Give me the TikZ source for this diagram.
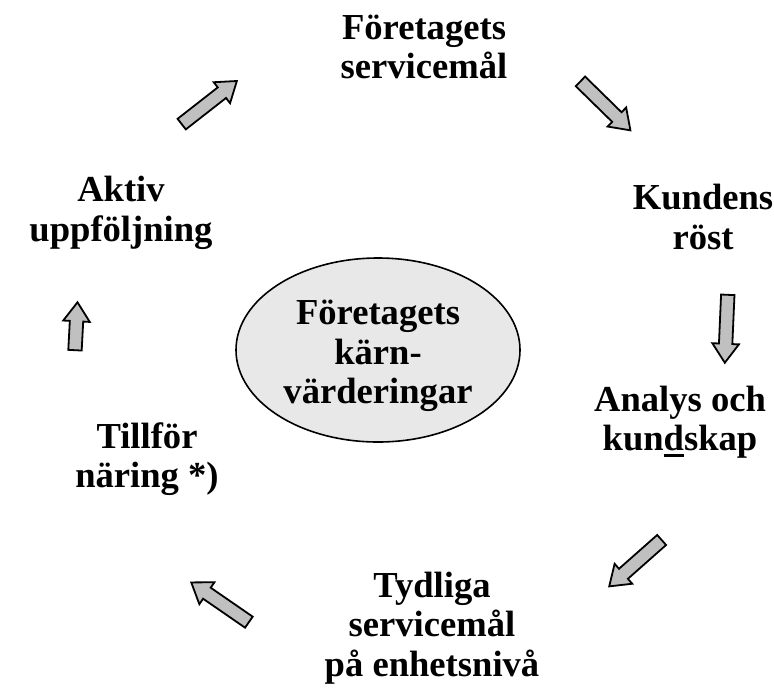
\documentclass[tikz,border=0pt]{standalone}
\usepackage{fontspec}
\setmainfont{Liberation Serif}
\usetikzlibrary{shapes.arrows, shapes.geometric}

\definecolor{arrowgray}{RGB}{192,192,192}
\definecolor{corefill}{RGB}{232,232,232}

\newsavebox\ulbox
\newcommand\thickul[1]{\sbox\ulbox{#1}\rlap{\rule[-3.4pt]{\wd\ulbox}{1.6pt}}\usebox\ulbox}

\tikzset{
  steptext/.style={align=center, font=\fontsize{18.3}{19.8}\selectfont\bfseries, inner sep=0pt},
  blockarrow/.style={single arrow, draw=black, line width=0.9pt, fill=arrowgray,
    inner xsep=0pt, inner ysep=2.9pt, single arrow head extend=3.3pt, single arrow tip angle=70,
    minimum height=#1},
  blockarrow/.default=35pt
}

\begin{document}
\begin{tikzpicture}[x=0.5pt, y=-0.5pt]
\useasboundingbox (0,0) rectangle (774,691);
% Center
\node[ellipse, draw=black, line width=0.8pt, fill=corefill, minimum width=142pt, minimum height=92pt] (core) at (378,350) {};
\node[steptext] (coretext) at (378,356) {Företagets\\kärn-\\värderingar};
% Nodes
\node[steptext] (goal) at (424,47) {Företagets\\servicemål};
\node[steptext] (voice) at (703,217) {Kundens\\röst};
\node[steptext] (analysis) at (680,422) {Analys och\\kun\thickul{d}skap};
\node[steptext] (unit) at (432,628) {Tydliga\\servicemål\\på enhetsnivå};
\node[steptext] (feed) at (147,459) {Tillför\\näring *)};
\node[steptext] (follow) at (121,213) {Aktiv\\uppföljning};
% Arrows
\node[blockarrow, rotate=38] (a1) at (205.5,105.5) {};
\node[blockarrow, rotate=-44.4] (a2) at (602,102.5) {};
\node[blockarrow=34pt, rotate=-92.5] (a3) at (726.5,324) {};
\node[blockarrow, rotate=221.5] (a4) at (639,560) {};
\node[blockarrow, rotate=145.4] (a5) at (224,605) {};
\node[blockarrow=24pt, rotate=87] (a6) at (76,331) {};
\end{tikzpicture}
\end{document}
